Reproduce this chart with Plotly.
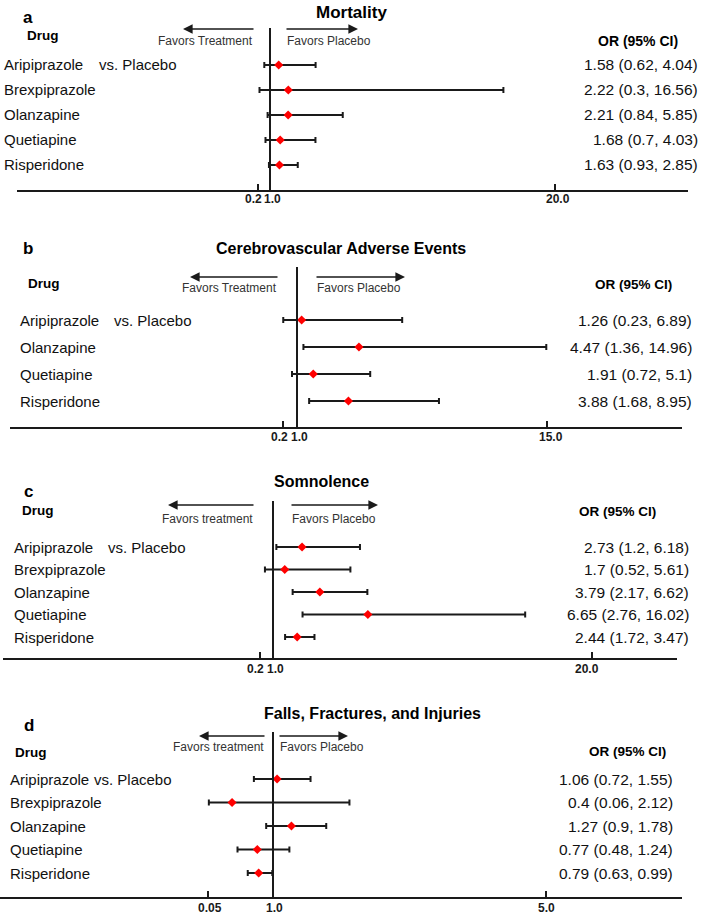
import plotly.graph_objects as go

W, H = 703, 914

# ---------------- data ----------------
titles = ["Mortality", "Cerebrovascular Adverse Events", "Somnolence",
          "Falls, Fractures, and Injuries"]
panel_letters = ["a", "b", "c", "d"]
favors_left = ["Favors Treatment", "Favors Treatment", "Favors treatment", "Favors treatment"]
favors_right = ["Favors Placebo", "Favors Placebo", "Favors Placebo", "Favors Placebo"]

drugs_a = ["Aripiprazole", "Brexpiprazole", "Olanzapine", "Quetiapine", "Risperidone"]
or_a = [1.58, 2.22, 2.21, 1.68, 1.63]
lo_a = [0.62, 0.3, 0.84, 0.7, 0.93]
hi_a = [4.04, 16.56, 5.85, 4.03, 2.85]

drugs_b = ["Aripiprazole", "Olanzapine", "Quetiapine", "Risperidone"]
or_b = [1.26, 4.47, 1.91, 3.88]
lo_b = [0.23, 1.36, 0.72, 1.68]
hi_b = [6.89, 14.96, 5.1, 8.95]

drugs_c = ["Aripiprazole", "Brexpiprazole", "Olanzapine", "Quetiapine", "Risperidone"]
or_c = [2.73, 1.7, 3.79, 6.65, 2.44]
lo_c = [1.2, 0.52, 2.17, 2.76, 1.72]
hi_c = [6.18, 5.61, 6.62, 16.02, 3.47]

drugs_d = ["Aripiprazole", "Brexpiprazole", "Olanzapine", "Quetiapine", "Risperidone"]
or_d = [1.06, 0.4, 1.27, 0.77, 0.79]
lo_d = [0.72, 0.06, 0.9, 0.48, 0.63]
hi_d = [1.55, 2.12, 1.78, 1.24, 0.99]

tickvals_a = [0.2, 1.0, 20.0]
tickvals_b = [0.2, 1.0, 15.0]
tickvals_c = [0.2, 1.0, 20.0]
tickvals_d = [0.05, 1.0, 5.0]
ticktext_a = ["0.2", "1.0", "20.0"]
ticktext_b = ["0.2", "1.0", "15.0"]
ticktext_c = ["0.2", "1.0", "20.0"]
ticktext_d = ["0.05", "1.0", "5.0"]

# ---------------- layout (pixel geometry) ----------------
geom = [
    dict(x1=270, s=15.0, xl=17, xr=688, ya=190, yt=28, r0=65, dr=25),
    dict(x1=297, s=250 / 14, xl=10, xr=682, ya=427, yt=267, r0=320, dr=27),
    dict(x1=273, s=319 / 19, xl=3, xr=677, ya=658, yt=501, r0=547, dr=22.5),
    dict(x1=273, s=68.25, xl=0, xr=682, ya=897, yt=732, r0=779, dr=23.5),
]
# tick label pixel nudges (x) and distance below axis (y)
tick_dx = [[-4.5, 2.5, 3], [-3, 2.5, 4], [-4.5, 2, -5], [2, 1.5, 0]]
tick_dy = [9, 10, 11, 11]

txt = [
    dict(let=(28, 17), tit=(351, 12, 17), drug=(25, 36), arrL=(183, 255, 29), arrR=(285, 358, 29),
         fav_y=41, orh=(680, 41, 14), name_x=2, vs_x=97, or_x=700),
    dict(let=(28, 248), tit=(341, 248, 16), drug=(26, 283), arrL=(190, 279, 277), arrR=(315, 405, 277),
         fav_y=288, orh=(674, 285, 13.5), name_x=18, vs_x=112, or_x=694),
    dict(let=(28, 491), tit=(321, 481, 16), drug=(20, 510), arrL=(168, 255, 505), arrR=(290, 378, 505),
         fav_y=519, orh=(658, 511, 13.5), name_x=12, vs_x=106, or_x=691),
    dict(let=(29, 725), tit=(372, 713, 16), drug=(13, 752), arrL=(199, 266, 736), arrR=(278, 348, 736),
         fav_y=747, orh=(668, 751, 13.5), name_x=8, vs_x=92, or_x=675),
]

panels = [
    (drugs_a, or_a, lo_a, hi_a, tickvals_a, ticktext_a),
    (drugs_b, or_b, lo_b, hi_b, tickvals_b, ticktext_b),
    (drugs_c, or_c, lo_c, hi_c, tickvals_c, ticktext_c),
    (drugs_d, or_d, lo_d, hi_d, tickvals_d, ticktext_d),
]

FONT = "Liberation Sans, Arial, sans-serif"
INK = "#1a1a1a"


def pxx(x):
    return x / W


def pyy(y):
    return 1 - y / H


fig = go.Figure()
annotations = []
shapes = []
layout_axes = {}

for i, (drugs, ors, los, his, tv, tt) in enumerate(panels):
    g = geom[i]
    t = txt[i]
    k = "" if i == 0 else str(i + 1)
    xname, yname = "x" + k, "y" + k
    n = len(drugs)
    ys = list(range(n))

    fig.add_trace(go.Scatter(
        x=ors, y=ys, mode="markers", xaxis=xname, yaxis=yname, showlegend=False,
        marker=dict(symbol="diamond", size=7, color="#ff0000", line=dict(width=0)),
        error_x=dict(type="data", symmetric=False,
                     array=[h - o for h, o in zip(his, ors)],
                     arrayminus=[o - l for o, l in zip(ors, los)],
                     thickness=2, width=3, color=INK),
    ))

    xrange = [1 + (g["xl"] - g["x1"]) / g["s"], 1 + (g["xr"] - g["x1"]) / g["s"]]
    yrange = [(g["ya"] - g["r0"]) / g["dr"], (g["yt"] - g["r0"]) / g["dr"]]
    layout_axes["xaxis" + k] = dict(
        domain=[pxx(g["xl"]), pxx(g["xr"])], range=xrange, anchor=yname,
        showline=True, linewidth=2, linecolor=INK, showgrid=False, zeroline=False,
        ticks="inside", ticklen=6, tickwidth=1.5, tickcolor=INK,
        tickmode="array", tickvals=tv, showticklabels=False, fixedrange=True,
    )
    layout_axes["yaxis" + k] = dict(
        domain=[pyy(g["ya"]), pyy(g["yt"])], range=yrange, anchor=xname,
        visible=False, fixedrange=True,
    )

    # tick labels placed on the axis scale
    for v, lab, dx in zip(tv, tt, tick_dx[i]):
        annotations.append(dict(x=v, y=0, xref=xname, yref=yname + " domain", text="<b>%s</b>" % lab,
                                showarrow=False, xanchor="center", yanchor="middle",
                                xshift=dx, yshift=-tick_dy[i],
                                font=dict(family=FONT, size=12, color=INK)))

    # vertical reference line at OR = 1
    shapes.append(dict(type="line", xref=xname, yref=yname + " domain",
                       x0=1, x1=1, y0=0, y1=1, line=dict(color=INK, width=2)))

    annotations.append(dict(x=pxx(t["let"][0]), y=pyy(t["let"][1]), xref="paper", yref="paper",
                            text="<b>%s</b>" % panel_letters[i], showarrow=False,
                            xanchor="center", yanchor="middle",
                            font=dict(family=FONT, size=17, color="#000")))
    annotations.append(dict(x=pxx(t["tit"][0]), y=pyy(t["tit"][1]), xref="paper", yref="paper",
                            text="<b>%s</b>" % titles[i], showarrow=False,
                            xanchor="center", yanchor="middle",
                            font=dict(family=FONT, size=t["tit"][2], color="#000")))
    annotations.append(dict(x=pxx(t["drug"][0]), y=pyy(t["drug"][1]), xref="paper", yref="paper",
                            text="<b>Drug</b>", showarrow=False, xanchor="left", yanchor="middle",
                            font=dict(family=FONT, size=13.5, color="#000")))
    annotations.append(dict(x=pxx(t["orh"][0]), y=pyy(t["orh"][1]), xref="paper", yref="paper",
                            text="<b>OR (95% CI)</b>", showarrow=False, xanchor="right", yanchor="middle",
                            font=dict(family=FONT, size=t["orh"][2], color="#000")))
    tipL, tailL, ay = t["arrL"]
    annotations.append(dict(x=pxx(tipL), y=pyy(ay), xref="paper", yref="paper", text="",
                            showarrow=True, ax=tailL - tipL, ay=0, arrowhead=2, arrowsize=1.2,
                            arrowwidth=1.6, arrowcolor=INK, standoff=0, startstandoff=0))
    tailR, tipR, ay = t["arrR"]
    annotations.append(dict(x=pxx(tipR), y=pyy(ay), xref="paper", yref="paper", text="",
                            showarrow=True, ax=tailR - tipR, ay=0, arrowhead=2, arrowsize=1.2,
                            arrowwidth=1.6, arrowcolor=INK, standoff=0, startstandoff=0))
    annotations.append(dict(x=pxx(tailL), y=pyy(t["fav_y"]), xref="paper", yref="paper",
                            text=favors_left[i], showarrow=False, xanchor="right", yanchor="middle",
                            font=dict(family=FONT, size=12, color="#333")))
    annotations.append(dict(x=pxx(tailR), y=pyy(t["fav_y"]), xref="paper", yref="paper",
                            text=favors_right[i], showarrow=False, xanchor="left", yanchor="middle",
                            font=dict(family=FONT, size=12, color="#333")))
    for j, d in enumerate(drugs):
        annotations.append(dict(x=pxx(t["name_x"]), y=j, xref="paper", yref=yname, text=d,
                                showarrow=False, xanchor="left", yanchor="middle",
                                font=dict(family=FONT, size=15, color="#111")))
        annotations.append(dict(x=pxx(t["or_x"]), y=j, xref="paper", yref=yname,
                                text="%g (%g, %g)" % (ors[j], los[j], his[j]),
                                showarrow=False, xanchor="right", yanchor="middle",
                                font=dict(family=FONT, size=15.5, color="#111")))
    annotations.append(dict(x=pxx(t["vs_x"]), y=0, xref="paper", yref=yname, text="vs. Placebo",
                            showarrow=False, xanchor="left", yanchor="middle",
                            font=dict(family=FONT, size=15, color="#111")))

fig.update_layout(
    width=W, height=H, margin=dict(l=0, r=0, t=0, b=0),
    paper_bgcolor="white", plot_bgcolor="white",
    annotations=annotations, shapes=shapes, showlegend=False,
    **layout_axes,
)

fig.write_html("out.html", config={"displayModeBar": False},
               post_script="document.body.style.margin='0';document.body.style.padding='0';"
                           "document.body.style.overflow='hidden';")
